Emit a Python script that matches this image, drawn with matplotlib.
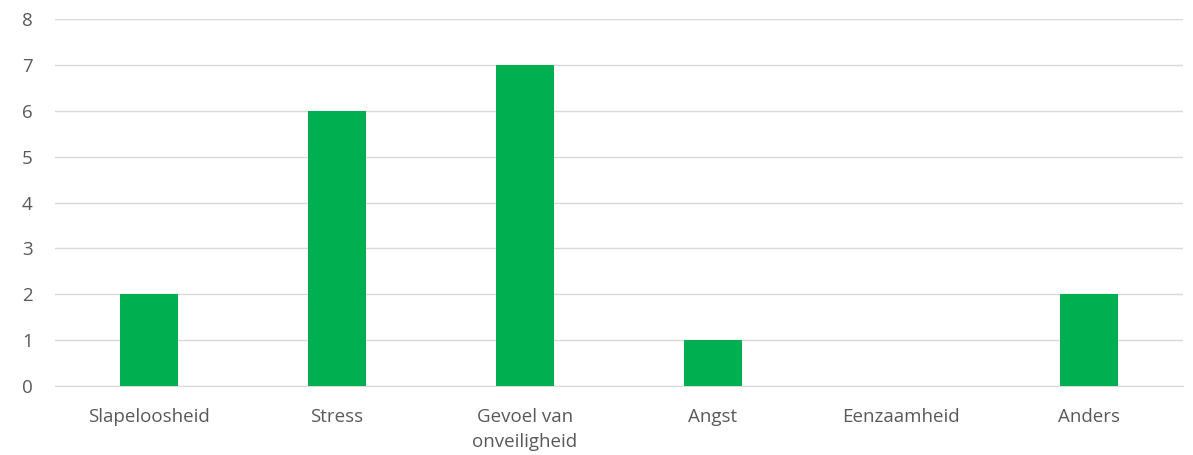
import matplotlib.pyplot as plt
import numpy as np

# data
categories = ["Slapeloosheid", "Stress", "Gevoel van\nonveiligheid", "Angst", "Eenzaamheid", "Anders"]
counts = [2, 6, 7, 1, 0, 2]

plt.rcParams['font.family'] = ['Open Sans', 'DejaVu Sans']

fig = plt.figure(figsize=(11.93, 4.55), dpi=100)
ax = fig.add_axes([0.046, 0.1516, 0.9456, 0.8064])

x = np.arange(len(categories))
ax.bar(x, counts, width=0.31, color="#00B050", zorder=3)

ax.set_xlim(-0.5, len(categories) - 0.5)
ax.set_ylim(0, 8)
ax.set_yticks(range(0, 9))
ax.set_xticks(x)
ax.set_xticklabels(categories, linespacing=1.5, va='top')

ax.grid(axis='y', color="#D9D9D9", linewidth=1, zorder=0)
for s in ['top', 'right', 'left']:
    ax.spines[s].set_visible(False)
ax.spines['bottom'].set_color("#D9D9D9")
ax.tick_params(axis='both', length=0, labelsize=13.5, colors="#595959")
ax.tick_params(axis='x', pad=16)
ax.tick_params(axis='y', pad=16)

fig.savefig("out.png", dpi=100)
